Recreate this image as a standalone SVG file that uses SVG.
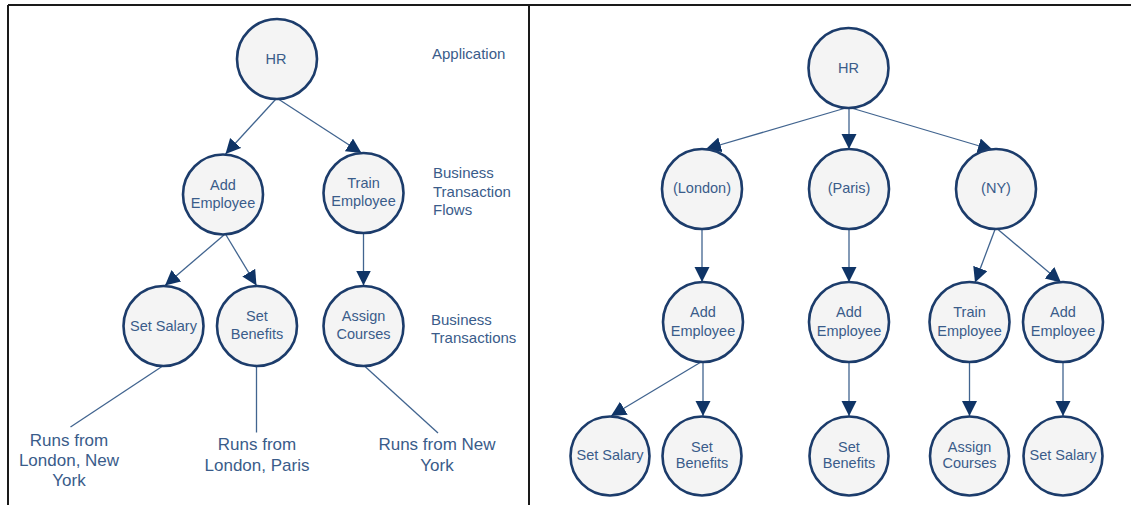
<svg xmlns="http://www.w3.org/2000/svg" width="1131" height="505" viewBox="0 0 1131 505">
<style>
.n{fill:#f4f4f4;stroke:#1c3c6b;stroke-width:2.6}
.t{font-family:"Liberation Sans",Arial,sans-serif;font-size:14.5px;fill:#3a5c8a;text-anchor:middle}
.lb{font-family:"Liberation Sans",Arial,sans-serif;font-size:15px;fill:#3a5c8a}
.r{font-family:"Liberation Sans",Arial,sans-serif;font-size:17px;fill:#3a5c8a;text-anchor:middle}
.c{stroke:#41648f;stroke-width:1.3;fill:none}
.a{marker-end:url(#ah)}
.f{stroke:#1a1a1a;stroke-width:2;fill:none}
</style>
<defs>
<marker id="ah" markerUnits="userSpaceOnUse" markerWidth="16" markerHeight="16" refX="15" refY="7.5" orient="auto">
<path d="M0,0 L15,7.5 L0,15 z" fill="#0f3466"/>
</marker>
</defs>
<rect width="1131" height="505" fill="#ffffff"/>
<g id="frame">
<line class="f" x1="8" y1="5" x2="1131" y2="5"/>
<line class="f" x1="8" y1="5" x2="8" y2="505"/>
<line class="f" x1="529" y1="5" x2="529" y2="505" stroke="#444"/>
</g>
<g id="connectors">
<line class="c a" x1="275.5" y1="99.5" x2="225.5" y2="154"/>
<line class="c a" x1="279" y1="99.5" x2="361.5" y2="153"/>
<line class="c a" x1="224" y1="235" x2="165" y2="285.5"/>
<line class="c a" x1="226" y1="235" x2="256.5" y2="285.5"/>
<line class="c a" x1="363.5" y1="234" x2="363.5" y2="285.5"/>
<line class="c" x1="162" y1="366.5" x2="70.5" y2="427"/>
<line class="c" x1="256.5" y1="366.5" x2="256.5" y2="432.5"/>
<line class="c" x1="365" y1="366.5" x2="438" y2="433"/>
<line class="c a" x1="844" y1="108.5" x2="706" y2="149"/>
<line class="c a" x1="849" y1="108" x2="849" y2="149"/>
<line class="c a" x1="853" y1="108.5" x2="993" y2="150"/>
<line class="c a" x1="702" y1="229" x2="702" y2="282"/>
<line class="c a" x1="849" y1="229" x2="849" y2="282"/>
<line class="c a" x1="995" y1="229.5" x2="975" y2="282.5"/>
<line class="c a" x1="998" y1="229.5" x2="1061" y2="282.5"/>
<line class="c a" x1="701" y1="362" x2="611" y2="416"/>
<line class="c a" x1="703" y1="362" x2="703" y2="416"/>
<line class="c a" x1="849" y1="362" x2="849" y2="416"/>
<line class="c a" x1="969.5" y1="362" x2="969.5" y2="416"/>
<line class="c a" x1="1063" y1="362" x2="1063" y2="416"/>
</g>
<g id="L-HR"><circle class="n" cx="277" cy="59" r="40"/><text class="t" x="276" y="64">HR</text></g>
<g id="L-AddEmployee"><circle class="n" cx="223" cy="194.5" r="40"/><text class="t" x="223" y="190">Add</text><text class="t" x="223" y="208">Employee</text></g>
<g id="L-TrainEmployee"><circle class="n" cx="363.5" cy="193" r="40"/><text class="t" x="363.5" y="188">Train</text><text class="t" x="363.5" y="206">Employee</text></g>
<g id="L-SetSalary"><circle class="n" cx="163.5" cy="326" r="40"/><text class="t" x="163.5" y="331">Set Salary</text></g>
<g id="L-SetBenefits"><circle class="n" cx="257" cy="326" r="40"/><text class="t" x="257" y="321">Set</text><text class="t" x="257" y="339">Benefits</text></g>
<g id="L-AssignCourses"><circle class="n" cx="363.5" cy="326" r="40"/><text class="t" x="363.5" y="321">Assign</text><text class="t" x="363.5" y="339">Courses</text></g>
<g id="labels">
<text class="lb" x="432" y="59">Application</text>
<text class="lb" x="433" y="178">Business</text>
<text class="lb" x="433" y="197">Transaction</text>
<text class="lb" x="433" y="215">Flows</text>
<text class="lb" x="431" y="325">Business</text>
<text class="lb" x="431" y="343">Transactions</text>
</g>
<g id="runs">
<text class="r" x="69" y="446">Runs from</text>
<text class="r" x="69" y="466">London, New</text>
<text class="r" x="69" y="486">York</text>
<text class="r" x="257" y="450">Runs from</text>
<text class="r" x="257" y="471">London, Paris</text>
<text class="r" x="437" y="450">Runs from New</text>
<text class="r" x="437" y="471">York</text>
</g>
<g id="R-HR"><circle class="n" cx="848.5" cy="68" r="40"/><text class="t" x="848.5" y="73">HR</text></g>
<g id="R-London"><circle class="n" cx="702" cy="189" r="40"/><text class="t" x="702" y="193">(London)</text></g>
<g id="R-Paris"><circle class="n" cx="849" cy="189" r="40"/><text class="t" x="849" y="193">(Paris)</text></g>
<g id="R-NY"><circle class="n" cx="996" cy="189" r="40"/><text class="t" x="996" y="193">(NY)</text></g>
<g id="R-AddEmployee1"><circle class="n" cx="703" cy="322" r="40"/><text class="t" x="703" y="316.5">Add</text><text class="t" x="703" y="336">Employee</text></g>
<g id="R-AddEmployee2"><circle class="n" cx="849" cy="322" r="40"/><text class="t" x="849" y="316.5">Add</text><text class="t" x="849" y="336">Employee</text></g>
<g id="R-TrainEmployee"><circle class="n" cx="969.5" cy="322" r="40"/><text class="t" x="969.5" y="316.5">Train</text><text class="t" x="969.5" y="336">Employee</text></g>
<g id="R-AddEmployee3"><circle class="n" cx="1063" cy="322" r="40"/><text class="t" x="1063" y="316.5">Add</text><text class="t" x="1063" y="336">Employee</text></g>
<g id="R-SetSalary1"><circle class="n" cx="610" cy="456" r="39.5"/><text class="t" x="610" y="460">Set Salary</text></g>
<g id="R-SetBenefits1"><circle class="n" cx="702" cy="456" r="39.5"/><text class="t" x="702" y="451.5">Set</text><text class="t" x="702" y="468">Benefits</text></g>
<g id="R-SetBenefits2"><circle class="n" cx="849" cy="456" r="39.5"/><text class="t" x="849" y="451.5">Set</text><text class="t" x="849" y="468">Benefits</text></g>
<g id="R-AssignCourses"><circle class="n" cx="969.5" cy="456" r="39.5"/><text class="t" x="969.5" y="451.5">Assign</text><text class="t" x="969.5" y="468">Courses</text></g>
<g id="R-SetSalary2"><circle class="n" cx="1063" cy="456" r="39.5"/><text class="t" x="1063" y="460">Set Salary</text></g>
</svg>
